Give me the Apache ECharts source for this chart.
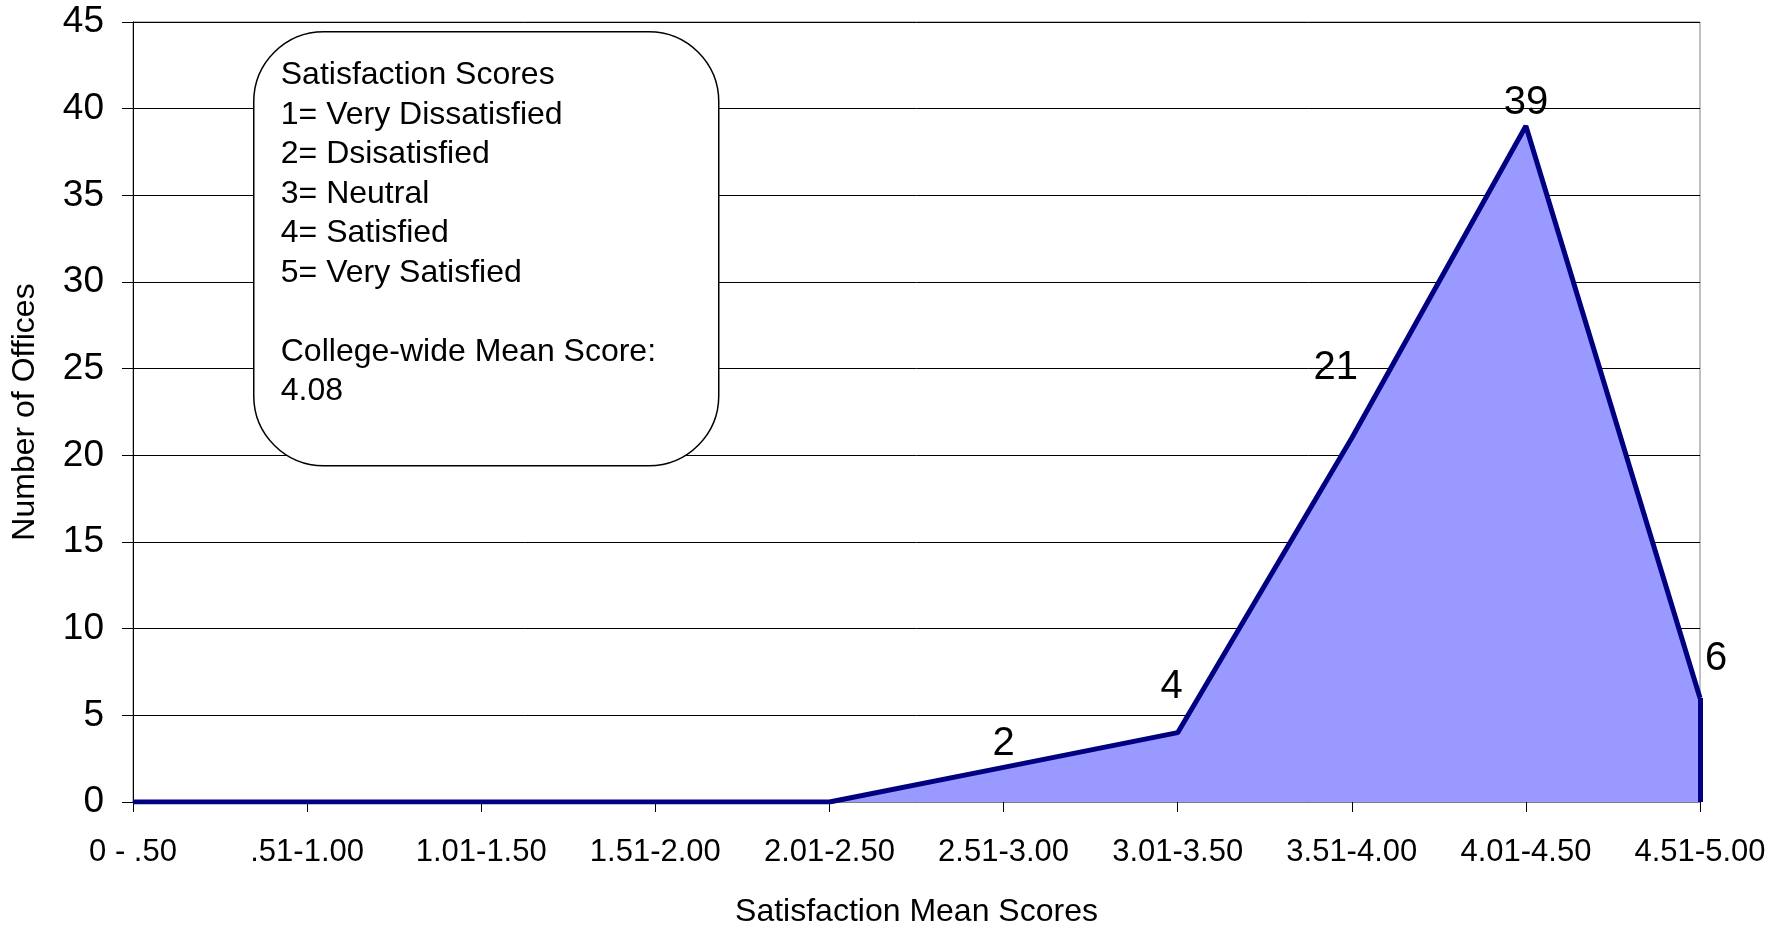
<!DOCTYPE html>
<html>
<head>
<meta charset="utf-8">
<title>Satisfaction Mean Scores</title>
<script src="https://cdn.jsdelivr.net/npm/echarts@6/dist/echarts.min.js"></script>
<style>
  html, body { margin: 0; padding: 0; background: #ffffff; }
  #chart { width: 1788px; height: 926px; }
</style>
</head>
<body>
<div id="chart"></div>
<script>
// Score bands on the horizontal axis
const scoreBands = ['0 - .50', '.51-1.00', '1.01-1.50', '1.51-2.00', '2.01-2.50',
                    '2.51-3.00', '3.01-3.50', '3.51-4.00', '4.01-4.50', '4.51-5.00'];
// Number of offices whose mean score falls in each band
const officeCounts = [0, 0, 0, 0, 0, 2, 4, 21, 39, 6];
// Vertical scale
const countMin = 0;
const countMax = 45;
const countStep = 5;
// Legend box text
const legendLines = [
  'Satisfaction Scores',
  '1= Very Dissatisfied',
  '2= Dsisatisfied',
  '3= Neutral',
  '4= Satisfied',
  '5= Very Satisfied',
  '',
  'College-wide Mean Score:',
  '4.08'
];

const FONT = '"Liberation Sans", Arial, Helvetica, sans-serif';
const NAVY = '#000080';
const FILL = '#9999FF';

// Label nudges (px) so each value sits where it reads clearly
const labelNudge = {5: [0, -23], 6: [-6, -46], 7: [-16, -70], 8: [0, -23], 9: [16, -39]};

const seriesData = officeCounts.map((v, i) => ({
  value: v,
  label: {
    show: v !== 0,
    position: 'inside',
    offset: labelNudge[i] || [0, -23]
  }
}));

const chart = echarts.init(document.getElementById('chart'), null, { renderer: 'canvas' });

chart.setOption({
  animation: false,
  backgroundColor: '#ffffff',
  textStyle: { fontFamily: FONT },
  grid: {
    left: 133, right: 88, top: 22, bottom: 124,
    show: true, borderColor: '#808080', borderWidth: 1,
    outerBoundsMode: 'none',
    containLabel: false
  },
  xAxis: {
    type: 'category',
    data: scoreBands,
    boundaryGap: false,
    name: 'Satisfaction Mean Scores',
    nameLocation: 'middle',
    nameGap: 94,
    nameTextStyle: { fontSize: 32, color: '#000', fontFamily: FONT },
    axisLine: { show: true, lineStyle: { color: '#808080', width: 1 } },
    axisTick: { show: true, length: 10, lineStyle: { color: '#000' } },
    axisLabel: { fontSize: 31, color: '#000', margin: 35, fontFamily: FONT, interval: 0 },
    splitLine: { show: false }
  },
  yAxis: {
    type: 'value',
    min: countMin, max: countMax, interval: countStep,
    name: 'Number of Offices',
    nameLocation: 'middle',
    nameGap: 92,
    nameRotate: 90,
    nameTextStyle: { fontSize: 32, color: '#000', fontFamily: FONT },
    axisLine: { show: true, lineStyle: { color: '#000', width: 1 } },
    axisTick: { show: true, length: 11, lineStyle: { color: '#000' } },
    axisLabel: { fontSize: 37, color: '#000', margin: 29, fontFamily: FONT },
    splitLine: { show: true, lineStyle: { color: '#000', width: 1 } }
  },
  series: [{
    type: 'line',
    data: seriesData,
    symbol: 'circle',
    symbolSize: 1,
    showSymbol: true,
    itemStyle: { color: NAVY },
    lineStyle: { color: NAVY, width: 5 },
    areaStyle: { color: FILL, opacity: 1 },
    label: {
      fontSize: 40, color: '#000', fontFamily: FONT,
      formatter: p => String(p.value)
    },
    emphasis: { disabled: true },
    markLine: {
      silent: true,
      symbol: ['none', 'none'],
      label: { show: false },
      lineStyle: { color: NAVY, width: 5, type: 'solid' },
      data: [[
        { coord: [scoreBands[scoreBands.length - 1], countMin] },
        { coord: [scoreBands[scoreBands.length - 1], officeCounts[officeCounts.length - 1]] }
      ]]
    },
    z: 3
  }],
  graphic: [{
    type: 'group',
    left: 253, top: 31, z: 100,
    children: [{
      type: 'rect',
      z: 100,
      shape: { x: 0, y: 0, width: 465, height: 434, r: 70 },
      style: { fill: '#ffffff', stroke: '#000', lineWidth: 1.5 }
    }, {
      type: 'text',
      z: 101,
      x: 27, y: 24,
      style: {
        text: legendLines.join('\n'),
        font: '32px ' + FONT,
        fill: '#000',
        lineHeight: 39.5
      }
    }]
  }]
});
</script>
</body>
</html>
